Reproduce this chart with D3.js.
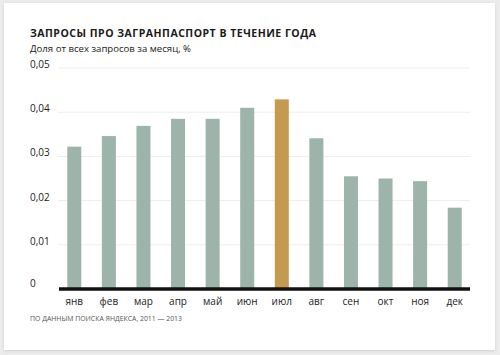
<!DOCTYPE html>
<html><head><meta charset="utf-8">
<script src="https://cdn.jsdelivr.net/npm/d3@7"></script>
<style>
html,body{margin:0;padding:0;background:#ececec;}
svg{display:block;}
</style></head>
<body>
<script>
const months = ["янв","фев","мар","апр","май","июн","июл","авг","сен","окт","ноя","дек"];
const values = [0.0322,0.0346,0.0369,0.0385,0.0385,0.0410,0.0429,0.0341,0.0255,0.0250,0.0244,0.0184];
const highlight = "июл";
const yTicks = [0,0.01,0.02,0.03,0.04,0.05];
const title = "ЗАПРОСЫ ПРО ЗАГРАНПАСПОРТ В ТЕЧЕНИЕ ГОДА";
const subtitle = "Доля от всех запросов за месяц, %";
const source = "ПО ДАННЫМ ПОИСКА ЯНДЕКСА, 2011 — 2013";

const W=500,H=355;
const svg=d3.select("body").append("svg").attr("width",W).attr("height",H);
const defs=svg.append("defs");
const f=defs.append("filter").attr("id","sh").attr("x","-5%").attr("y","-5%").attr("width","110%").attr("height","110%");
f.append("feDropShadow").attr("dx",0).attr("dy",1).attr("stdDeviation",1.5).attr("flood-color","#000").attr("flood-opacity",0.12);
svg.append("rect").attr("x",4).attr("y",3).attr("width",491).attr("height",347).attr("fill","#fff").attr("filter","url(#sh)");

const font="'Open Sans', 'Noto Sans', sans-serif";
svg.append("text").attr("x",30).attr("y",37).text(title)
  .attr("font-family",font).attr("font-weight",700).attr("font-size",10.5).attr("letter-spacing",0.5).attr("fill","#1a1a1a");
svg.append("text").attr("x",30).attr("y",52).text(subtitle)
  .attr("font-family",font).attr("font-size",9.6).attr("fill","#222");

const x=d3.scaleBand().domain(months).range([57,472]).paddingInner(0.595).paddingOuter(0.2975);
const y=d3.scaleLinear().domain([0,0.05]).range([289,68]);

const g=svg.append("g");
g.selectAll("line.grid").data(yTicks.filter(d=>d>0)).join("line").attr("class","grid")
  .attr("x1",58).attr("x2",470).attr("y1",d=>y(d)).attr("y2",d=>y(d))
  .attr("stroke","#eeeeee").attr("stroke-width",1);

const fmt=d=>d===0?"0":d3.format(".2f")(d).replace(".",",");
g.selectAll("text.yl").data(yTicks).join("text").attr("class","yl")
  .attr("x",30).attr("y",d=>y(d)-(d===0?2:0)).text(fmt)
  .attr("font-family",font).attr("font-size",10).attr("fill","#222");

g.selectAll("rect.bar").data(months).join("rect").attr("class","bar")
  .attr("x",d=>x(d)).attr("width",x.bandwidth())
  .attr("y",(d,i)=>y(values[i])).attr("height",(d,i)=>y(0)-y(values[i]))
  .attr("fill",d=>d===highlight?"#c49a4e":"#9db4aa");

g.append("line").attr("x1",59).attr("x2",470).attr("y1",y(0)).attr("y2",y(0))
  .attr("stroke","#111").attr("stroke-width",3.5);

g.selectAll("text.xl").data(months).join("text").attr("class","xl")
  .attr("x",d=>x(d)+x.bandwidth()/2).attr("y",305).attr("text-anchor","middle").text(d=>d)
  .attr("font-family",font).attr("font-size",10).attr("fill","#222");

svg.append("text").attr("x",30).attr("y",321).text(source)
  .attr("font-family",font).attr("font-size",6.9).attr("fill","#555");
</script>
</body></html>
